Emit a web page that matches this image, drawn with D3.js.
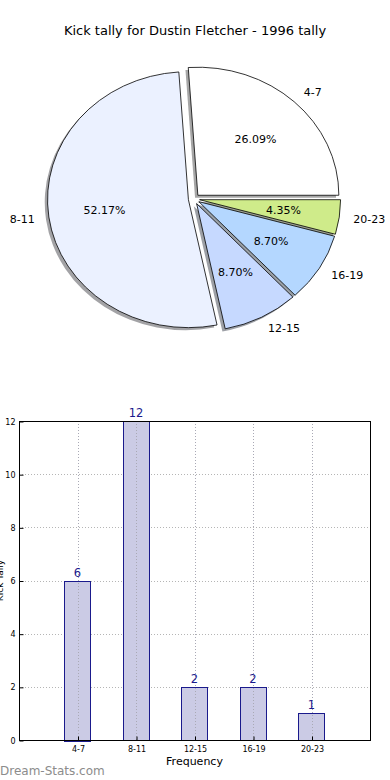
<!DOCTYPE html>
<html>
<head>
<meta charset="utf-8">
<script src="https://cdn.jsdelivr.net/npm/d3@7"></script>
<style>
  body { margin: 0; background: #fff; }
  svg { display: block; font-family: "DejaVu Sans", sans-serif; }
</style>
</head>
<body>
<div id="chart"></div>
<script>
// data
var categories = ["4-7", "8-11", "12-15", "16-19", "20-23"];
var counts = [6, 12, 2, 2, 1];
var sliceColors = ["#ffffff", "#ebf1ff", "#c6d9ff", "#b4d7ff", "#cfeb8a"];
var yTicks = [0, 2, 4, 6, 8, 10, 12];
var title = "Kick tally for Dustin Fletcher - 1996 tally";

var width = 390, height = 780;

var svg = d3.select("#chart")
  .append("svg")
    .attr("width", width)
    .attr("height", height);

svg.append("text")
  .attr("x", 195)
  .attr("y", 35)
  .attr("text-anchor", "middle")
  .style("font-size", "13px")
  .text(title);

// ---- pie (matplotlib style: starts at 3 o'clock, counter-clockwise, elliptical) ----
var cx = 194, cy = 199, rx = 141, ry = 128, explode = 0.04;
var total = d3.sum(counts);

var pie = d3.pie()
  .sort(null)
  .startAngle(Math.PI / 2)
  .endAngle(Math.PI / 2 - 2 * Math.PI);

var arcs = pie(counts);
var arc = d3.arc().innerRadius(0).outerRadius(1);

// mid angle in d3 terms -> unit vector in screen coords
function dir(d) {
  var a = (d.startAngle + d.endAngle) / 2;
  return [Math.sin(a), -Math.cos(a)];
}

var pieG = svg.append("g");

// shadows
pieG.selectAll("path.shadow")
  .data(arcs)
  .enter().append("path")
    .attr("class", "shadow")
    .attr("d", arc)
    .attr("transform", d => {
      var v = dir(d);
      return "translate(" + (cx + v[0] * explode * rx - 2.8) + "," + (cy + v[1] * explode * ry + 2.6) + ") scale(" + rx + "," + ry + ")";
    })
    .attr("fill", (d, i) => { var c = d3.rgb(sliceColors[i]); return d3.rgb(c.r * 0.3, c.g * 0.3, c.b * 0.3); })
    .attr("fill-opacity", 0.5);

pieG.selectAll("path.slice")
  .data(arcs)
  .enter().append("path")
    .attr("class", "slice")
    .attr("d", arc)
    .attr("transform", d => {
      var v = dir(d);
      return "translate(" + (cx + v[0] * explode * rx) + "," + (cy + v[1] * explode * ry) + ") scale(" + rx + "," + ry + ")";
    })
    .attr("fill", (d, i) => sliceColors[i])
    .attr("stroke", "#000")
    .attr("stroke-width", 0.8)
    .attr("vector-effect", "non-scaling-stroke");

// outer labels
pieG.selectAll("text.lbl")
  .data(arcs)
  .enter().append("text")
    .attr("class", "lbl")
    .attr("x", d => { var v = dir(d); return cx + v[0] * (1.1 + explode) * rx; })
    .attr("y", d => { var v = dir(d); return cy + v[1] * (1.1 + explode) * ry; })
    .attr("dy", "0.35em")
    .attr("text-anchor", d => dir(d)[0] > 0 ? "start" : "end")
    .style("font-size", "11px")
    .text((d, i) => categories[i]);

// percentages
pieG.selectAll("text.pct")
  .data(arcs)
  .enter().append("text")
    .attr("class", "pct")
    .attr("x", d => { var v = dir(d); return cx + v[0] * (0.6 + explode) * rx; })
    .attr("y", d => { var v = dir(d); return cy + v[1] * (0.6 + explode) * ry; })
    .attr("dy", "0.35em")
    .attr("text-anchor", "middle")
    .style("font-size", "11px")
    .text(d => (d.value / total * 100).toFixed(2) + "%");

// ---- bar chart ----
var plotL = 19, plotR = 370, plotT = 421, plotB = 740;

var x = d3.scaleLinear().domain([-1, categories.length]).range([plotL, plotR]);
var y = d3.scaleLinear().domain([0, 12]).range([plotB, plotT]);
var barW = x(0.45) - x(0);

var barG = svg.append("g");

// horizontal grid
barG.selectAll("line.gy")
  .data(yTicks)
  .enter().append("line")
    .attr("x1", plotL).attr("x2", plotR)
    .attr("y1", d => Math.round(y(d)) + 0.5).attr("y2", d => Math.round(y(d)) + 0.5)
    .attr("stroke", "#b5b5b5").attr("stroke-dasharray", "1,2");

// bars
barG.selectAll("rect.bar")
  .data(counts)
  .enter().append("rect")
    .attr("x", (d, i) => Math.round(x(i) - barW / 2) + 0.5)
    .attr("y", d => Math.round(y(d)) + 0.5)
    .attr("width", Math.round(barW))
    .attr("height", d => Math.round(plotB - y(d)))
    .attr("fill", "#cbcbe5")
    .attr("stroke", "#1a1a8c")
    .attr("stroke-width", 1);

// vertical grid, drawn over the bars
barG.selectAll("line.gx")
  .data(categories)
  .enter().append("line")
    .attr("x1", (d, i) => Math.round(x(i)) + 0.5).attr("x2", (d, i) => Math.round(x(i)) + 0.5)
    .attr("y1", plotT).attr("y2", plotB)
    .attr("stroke", "#a9a9b5").attr("stroke-dasharray", "1,2");

// value labels
barG.selectAll("text.val")
  .data(counts)
  .enter().append("text")
    .attr("x", (d, i) => x(i))
    .attr("y", d => y(d) - 4)
    .attr("text-anchor", "middle")
    .attr("fill", "#1a1a8c")
    .style("font-size", "11.5px")
    .text(d => d);

// frame
barG.append("rect")
  .attr("x", plotL + 0.5).attr("y", plotT + 0.5)
  .attr("width", plotR - plotL).attr("height", plotB - plotT)
  .attr("fill", "none").attr("stroke", "#000").attr("stroke-width", 1);

// axes
var yAxis = d3.axisLeft(y).tickValues(yTicks).tickSize(-4).tickPadding(4);
var yAxisG = barG.append("g")
  .attr("transform", "translate(" + (plotL + 0.5) + ",0.5)")
  .call(yAxis);

var xAxis = d3.axisBottom(x).tickValues(d3.range(categories.length))
  .tickFormat(i => categories[i]).tickSize(-4).tickPadding(6);
var xAxisG = barG.append("g")
  .attr("transform", "translate(0.5," + (plotB + 0.5) + ")")
  .call(xAxis);

[yAxisG, xAxisG].forEach(g => {
  g.select(".domain").remove();
  g.selectAll("text").style("font-size", "8px").style("font-family", "DejaVu Sans, sans-serif").attr("fill", "#000");
  g.selectAll(".tick line").attr("stroke", "#000");
});

svg.append("text")
  .attr("x", (plotL + plotR) / 2)
  .attr("y", 765)
  .attr("text-anchor", "middle")
  .style("font-size", "11px")
  .text("Frequency");

svg.append("text")
  .attr("transform", "translate(3," + ((plotT + plotB) / 2) + ") rotate(-90)")
  .attr("text-anchor", "middle")
  .style("font-size", "9px")
  .text("Kick Tally");

svg.append("text")
  .attr("x", 0)
  .attr("y", 775)
  .attr("fill", "#8c8c8c")
  .style("font-size", "12px")
  .text("Dream-Stats.com");
</script>
</body>
</html>
